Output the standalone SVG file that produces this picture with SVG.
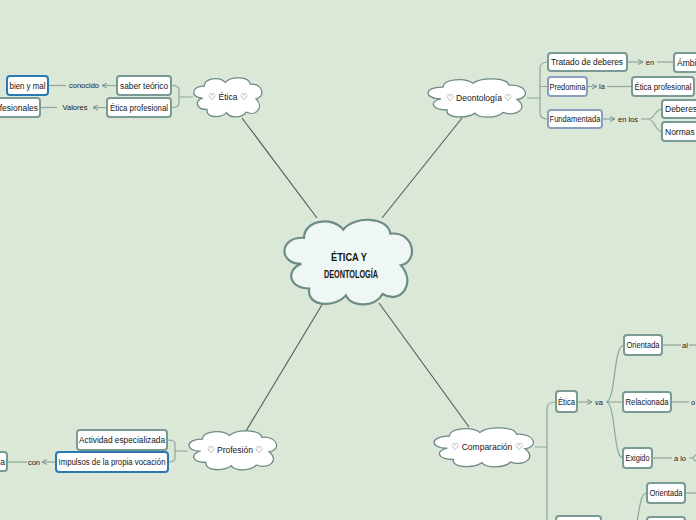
<svg xmlns="http://www.w3.org/2000/svg" width="696" height="520" viewBox="0 0 696 520">
<defs>
<style>
.box{fill:#fff;stroke:#7a9a95;stroke-width:2}
.sel{stroke:#2b78b5}
.blu{stroke:#8a9fbb}
.t{font-family:"Liberation Sans",Arial,sans-serif;font-size:8.5px;fill:#151515;text-anchor:middle}
.l{font-family:"Liberation Sans",Arial,sans-serif;font-size:7.5px;fill:#222;text-anchor:middle}
.c{font-family:"Liberation Sans",Arial,sans-serif;font-size:10px;fill:#151515;text-anchor:middle;font-weight:bold}
.br{fill:none;stroke:#8ea69e;stroke-width:1.2}
.main{fill:none;stroke:#4f5d52;stroke-width:1.1}
.cloud{fill:#fff;stroke:#6d8b87;stroke-width:1.3}
</style>
<path id="cl" vector-effect="non-scaling-stroke" d="M14,32 C-4,32 -3,12 16,13 C16,0 38,-3 46,7 C54,-3 80,-3 82,10 C100,8 104,30 90,33 C102,46 90,62 76,54 C70,64 52,64 48,55 C40,64 18,64 20,50 C4,50 2,36 14,32 Z"/>
<marker id="ar" viewBox="0 0 6 6" refX="5" refY="3" markerWidth="5" markerHeight="5" orient="auto">
<path d="M0,0.5 L5,3 L0,5.5" fill="none" stroke="#7a8f88" stroke-width="1"/>
</marker>
</defs>
<rect width="696" height="520" fill="#dbe7d7"/>

<g id="connectors">
<line class="main" x1="317" y1="218" x2="242" y2="118"/>
<line class="main" x1="382" y1="218" x2="462" y2="118"/>
<line class="main" x1="323" y1="303" x2="246" y2="431"/>
<line class="main" x1="379" y1="303" x2="469" y2="427"/>
<path class="br" d="M193,97 L179,97 M172,85.5 Q179,85.5 179,90 L179,103 Q179,107.5 172,107.5"/>
<line class="br" x1="117" y1="85.5" x2="102" y2="85.5" marker-end="url(#ar)"/>
<line class="br" x1="66" y1="85.5" x2="48" y2="85.5"/>
<line class="br" x1="107" y1="107.5" x2="93" y2="107.5" marker-end="url(#ar)"/>
<line class="br" x1="57" y1="107.5" x2="40" y2="107.5"/>
<path class="br" d="M527,98 L540,98 M548,62 Q540,62 540,68 L540,113 Q540,119 548,119 M540,86.5 L548,86.5"/>
<line class="br" x1="627" y1="62" x2="643" y2="62" marker-end="url(#ar)"/>
<line class="br" x1="657" y1="62" x2="674" y2="62"/>
<line class="br" x1="587" y1="86.5" x2="597" y2="86.5" marker-end="url(#ar)"/>
<line class="br" x1="607" y1="86.5" x2="632" y2="86.5"/>
<line class="br" x1="602" y1="119" x2="615" y2="119" marker-end="url(#ar)"/>
<path class="br" d="M641,119 L648,119 C655,119 655,109 662,109 M648,119 C655,119 655,131.5 662,131.5"/>
<path class="br" d="M188,451 L175,451 M168,440 Q175,440 175,444 L175,458 Q175,462 168,462"/>
<line class="br" x1="56" y1="462" x2="42" y2="462" marker-end="url(#ar)"/>
<line class="br" x1="27" y1="462" x2="7" y2="462"/>
<path class="br" d="M535,447 L547,447 M556,402 Q547,402 547,408 L547,525"/>
<line class="br" x1="577" y1="402" x2="592" y2="402" marker-end="url(#ar)"/>
<path class="br" d="M606,402 C616,402 613,345 624,345 M606,402 L623,402 M606,402 C616,402 613,458 623,458"/>
<line class="br" x1="662" y1="345" x2="681" y2="345"/>
<line class="br" x1="689" y1="345" x2="696" y2="345"/>
<line class="br" x1="671" y1="402" x2="689" y2="402"/>
<line class="br" x1="652" y1="458" x2="672" y2="458"/>
<path class="br" d="M689,458 L692,458 C694,458 694,455 698,454 M692,458 C694,458 694,461 698,462"/>
<line class="br" x1="685" y1="493" x2="696" y2="493"/>
<path class="br" d="M647,493 C639,493 640,514 636,524"/>
</g>

<g id="center">
<use href="#cl" transform="translate(283,220) scale(1.31,1.37)" style="fill:#eef7f4;stroke:#6d8b87;stroke-width:2.2"/>
<text class="c" x="349" y="261" textLength="36" lengthAdjust="spacingAndGlyphs">ÉTICA Y</text>
<text class="c" x="351" y="278" textLength="54" lengthAdjust="spacingAndGlyphs">DEONTOLOGÍA</text>
</g>

<g id="etica">
<use href="#cl" class="cloud" transform="translate(193,78) scale(0.70,0.63)"/>
<text class="t" x="228" y="100">♡ Ética ♡</text>
</g>
<g id="saber-teorico"><rect class="box" x="117" y="76" width="54" height="19" rx="3"/><text class="t" x="144" y="88.5" textLength="48" lengthAdjust="spacingAndGlyphs">saber teórico</text></g>
<g id="etica-profesional-1"><rect class="box" x="107" y="98" width="64" height="19" rx="3"/><text class="t" x="139" y="110.5" textLength="58" lengthAdjust="spacingAndGlyphs">Ética profesional</text></g>
<g id="conocido"><text class="l" x="84" y="88">conocido</text></g>
<g id="valores"><text class="l" x="75" y="110">Valores</text></g>
<g id="bien-y-mal"><rect class="box sel" x="7" y="76" width="41" height="19" rx="3"/><text class="t" x="27.5" y="88.5" textLength="36" lengthAdjust="spacingAndGlyphs">bien y mal</text></g>
<g id="profesionales"><rect class="box" x="-40" y="98" width="80" height="19" rx="3"/><text class="t" x="38" y="110.5" style="text-anchor:end">profesionales</text></g>

<g id="deontologia">
<use href="#cl" class="cloud" transform="translate(427,79) scale(1.0,0.62)"/>
<text class="t" x="479" y="101">♡ Deontología ♡</text>
</g>
<g id="tratado"><rect class="box" x="548" y="53" width="79" height="18" rx="3"/><text class="t" x="587" y="65" textLength="72" lengthAdjust="spacingAndGlyphs">Tratado de deberes</text></g>
<g id="predomina"><rect class="box blu" x="548" y="77" width="39" height="19" rx="3"/><text class="t" x="567.5" y="89.5" textLength="36" lengthAdjust="spacingAndGlyphs">Predomina</text></g>
<g id="fundamentada"><rect class="box blu" x="548" y="110" width="54" height="18" rx="3"/><text class="t" x="575" y="122" textLength="51" lengthAdjust="spacingAndGlyphs">Fundamentada</text></g>
<g id="en"><text class="l" x="650" y="64.5">en</text></g>
<g id="la"><text class="l" x="602" y="89">la</text></g>
<g id="en-los"><text class="l" x="628" y="121.5">en los</text></g>
<g id="ambito"><rect class="box" x="674" y="53" width="40" height="19" rx="3"/><text class="t" x="677" y="65.5" style="text-anchor:start">Ámbito</text></g>
<g id="etica-profesional-2"><rect class="box" x="632" y="77" width="62" height="19" rx="3"/><text class="t" x="663" y="89.5" textLength="57" lengthAdjust="spacingAndGlyphs">Ética profesional</text></g>
<g id="deberes"><rect class="box" x="662" y="100" width="50" height="18" rx="3"/><text class="t" x="665" y="112" style="text-anchor:start">Deberes</text></g>
<g id="normas"><rect class="box" x="662" y="122" width="50" height="19" rx="3"/><text class="t" x="665" y="134.5" style="text-anchor:start">Normas u</text></g>

<g id="profesion">
<use href="#cl" class="cloud" transform="translate(188,431) scale(0.9,0.63)"/>
<text class="t" x="235" y="453">♡ Profesión ♡</text>
</g>
<g id="actividad"><rect class="box" x="77" y="430" width="90" height="20" rx="3"/><text class="t" x="122" y="443" textLength="86" lengthAdjust="spacingAndGlyphs">Actividad especializada</text></g>
<g id="impulsos"><rect class="box sel" x="56" y="452" width="112" height="20" rx="3"/><text class="t" x="112" y="465" textLength="107" lengthAdjust="spacingAndGlyphs">Impulsos de la propia vocación</text></g>
<g id="con"><text class="l" x="34" y="464.5">con</text></g>
<g id="cut-left"><rect class="box" x="-40" y="452" width="47" height="19" rx="3"/><text class="t" x="5" y="464.5" style="text-anchor:end">a</text></g>

<g id="comparacion">
<use href="#cl" class="cloud" transform="translate(433,428) scale(1.02,0.63)"/>
<text class="t" x="487" y="450">♡ Comparación ♡</text>
</g>
<g id="etica-c"><rect class="box" x="556" y="391" width="21" height="21" rx="3"/><text class="t" x="566.5" y="404.5" textLength="17" lengthAdjust="spacingAndGlyphs">Ética</text></g>
<g id="va"><text class="l" x="599" y="404.5">va</text></g>
<g id="orientada-1"><rect class="box" x="624" y="335" width="38" height="20" rx="3"/><text class="t" x="643" y="348" textLength="33" lengthAdjust="spacingAndGlyphs">Orientada</text></g>
<g id="relacionada"><rect class="box" x="623" y="392" width="48" height="20" rx="3"/><text class="t" x="647" y="405" textLength="43" lengthAdjust="spacingAndGlyphs">Relacionada</text></g>
<g id="exigido"><rect class="box" x="623" y="448" width="29" height="20" rx="3"/><text class="t" x="637.5" y="461" textLength="24" lengthAdjust="spacingAndGlyphs">Exigido</text></g>
<g id="al"><text class="l" x="685" y="347.5">al</text></g>
<g id="o"><text class="l" x="691" y="404.5" style="text-anchor:start">o</text></g>
<g id="a-lo"><text class="l" x="680" y="460.5">a lo</text></g>
<g id="bottom-1"><rect class="box" x="556" y="516" width="45" height="20" rx="3"/></g>
<g id="orientada-2"><rect class="box" x="647" y="483" width="38" height="20" rx="3"/><text class="t" x="666" y="496" textLength="33" lengthAdjust="spacingAndGlyphs">Orientada</text></g>
<g id="bottom-2"><rect class="box" x="647" y="517" width="38" height="20" rx="3"/></g>
</svg>
